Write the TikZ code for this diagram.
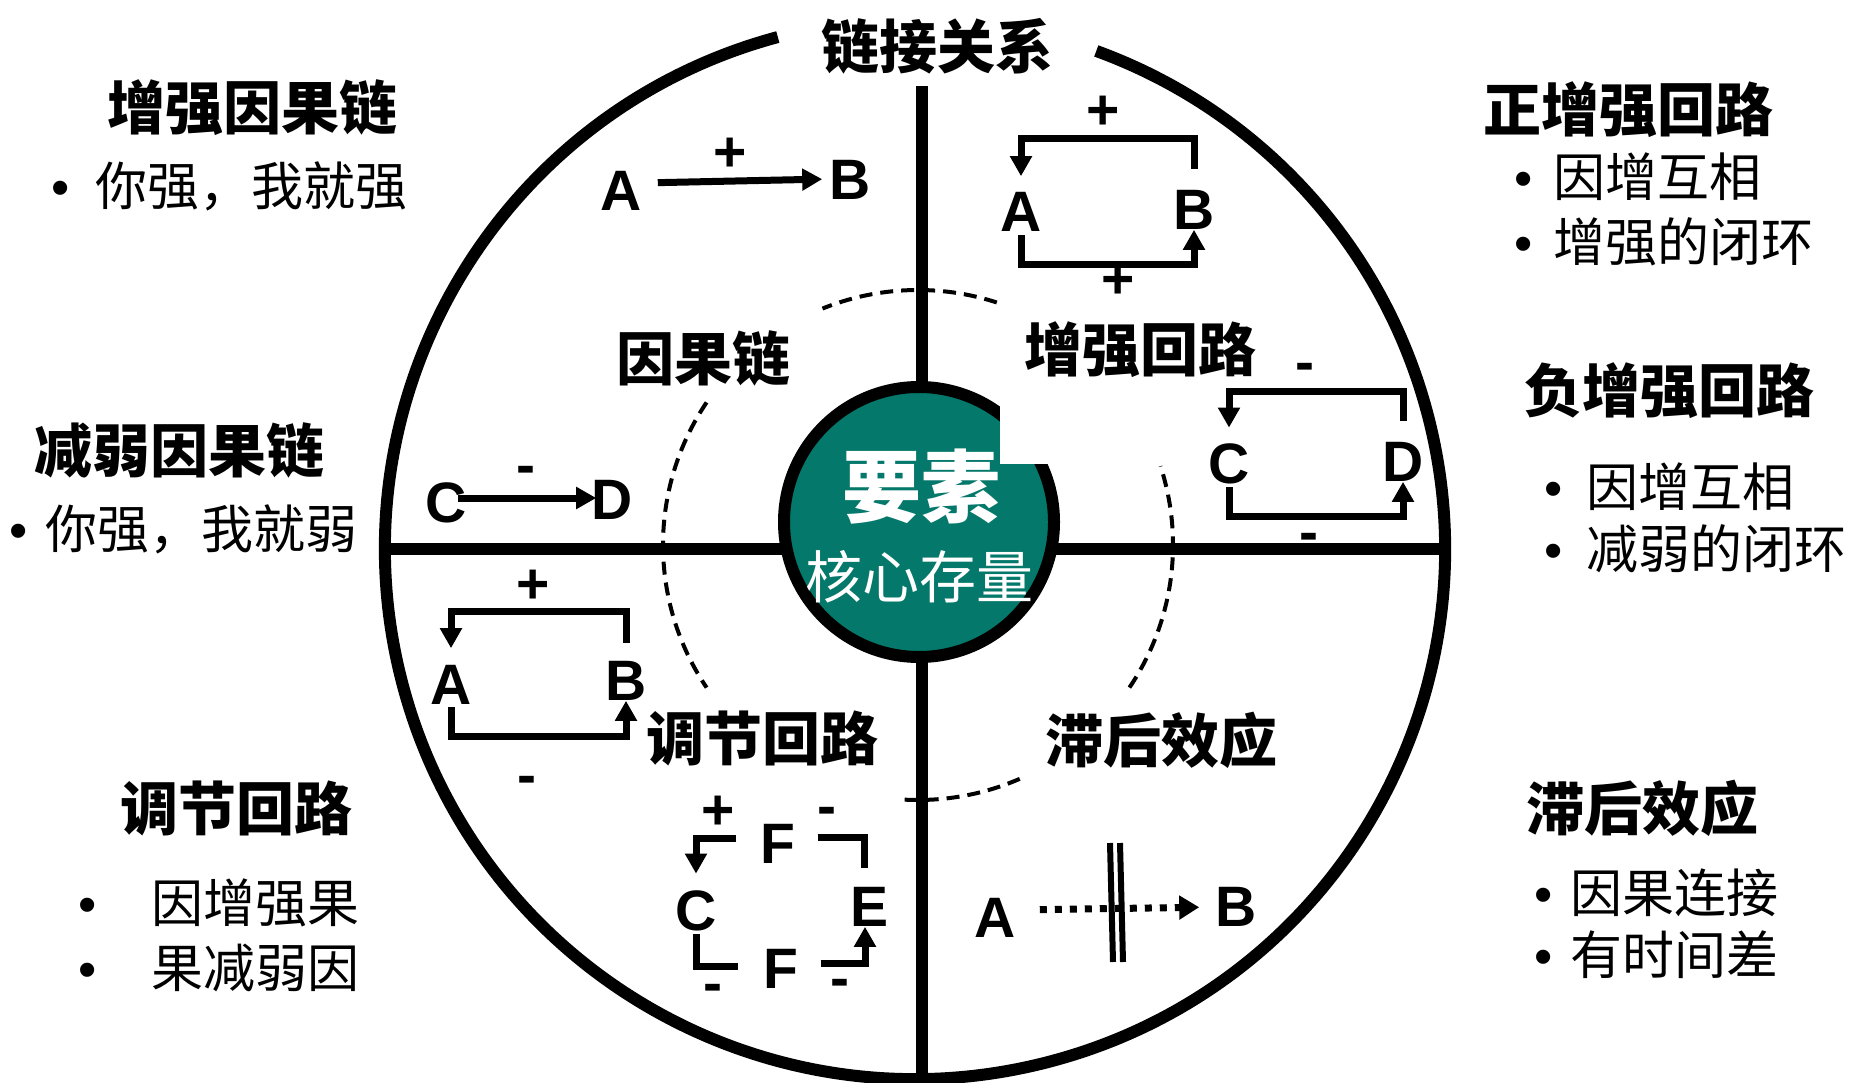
\documentclass[tikz,border=0pt]{standalone}
\usepackage{fontspec}
\usepackage{xcolor}
\usepackage{tikz}
\usetikzlibrary{arrows.meta}
\newfontfamily\cjk{Noto Sans CJK SC}
\newfontfamily\lat{Liberation Sans}
\definecolor{coreteal}{RGB}{4,120,106}
\newcommand{\fsz}[1]{\fontsize{#1}{#1}\selectfont}
\newcommand{\itm}[2]{{\lat •}\hspace{#1pt}#2}

\begin{document}
\begin{tikzpicture}[x=1pt, y=-1pt, >={Triangle[length=20pt,width=21pt]}]
\tikzstyle{every node}=[inner sep=0pt]
\tikzstyle{ring}=[line width=12pt]
\tikzstyle{ringdash}=[line width=4pt, dash pattern=on 13pt off 8pt]
\tikzstyle{fb}=[line width=7pt]
\tikzstyle{head}=[font=\cjk\bfseries\fsz{58}]
\tikzstyle{sector}=[font=\cjk\bfseries\fsz{58}]
\tikzstyle{bullet}=[font=\cjk\fsz{52}, anchor=west]
\tikzstyle{var}=[font=\lat\bfseries\fsz{57}]
\tikzstyle{sign}=[font=\lat\bfseries\fsz{57}]
  \useasboundingbox (0,0) rectangle (1865,1083);
  % big wheel, cross and dashed inner ring
  \draw[ring] (915,549) ++(105:530pt) arc[start angle=105, end angle=430, radius=530pt];
  \draw[ring] (922,86) -- (922,1083);
  \draw[ring] (380,549) -- (1448,549);
  \foreach \a/\b in {72/112, 146/214, -34/18, -93/-66}
    \draw[ringdash] (918,545) ++(\a:255pt) arc[start angle=\a, end angle=\b, radius=255pt];

  % core
  \draw[ring, fill=coreteal] (919,522) circle[radius=135pt];
  \fill[white] (1000,390) rectangle (1068,464);
  \node[font=\cjk\bfseries\fsz{79}, text=white] (core) at (921,487) {要素};
  \node[font=\cjk\fsz{57}, text=white] (stock) at (919,577) {核心存量};

  \node[sector] (title)   at (937,46)   {链接关系};
  \node[sector] (chain)   at (703,358)  {因果链};
  \node[sector] (reinf)   at (1140,350) {增强回路};
  \node[sector] (balance) at (762,738)  {调节回路};
  \node[sector] (delay)   at (1161,740) {滞后效应};

  % A -> B
  \node[var] (A1) at (621,191) {A};
  \node[var] (B1) at (850,180) {B};
  \node[sign] (p1) at (730,155) {+};
  \draw[fb,->,shorten <=16pt,shorten >=7pt] ([yshift=8pt]A1.east) -- ([yshift=1pt]B1.west);

  % C -> D
  \node[var] (C1) at (446,503) {C};
  \node[var] (D1) at (612,500) {D};
  \node[sign] (m3) at (526,475) {-};
  \draw[fb,->] ([xshift=-9pt,yshift=5pt]C1.east) -- ([xshift=5pt,yshift=2pt]D1.west);

  % A B loop, + +
  \node[var] (A2) at (1021,212) {A};
  \node[var] (B2) at (1194,210) {B};
  \node[sign] (p2) at (1103,113) {+};
  \node[sign] (p3) at (1118,282) {+};
  \draw[fb,->,shorten <=21pt,shorten >=16pt] (B2.north) -- ++(0,-52) -| (A2.north);
  \draw[fb,->,shorten <=3pt] (A2.south) -- ++(0,33) -| (B2.south);

  % C D loop, - -
  \node[var] (C2) at (1229,464) {C};
  \node[var] (D2) at (1403,462) {D};
  \node[sign] (m1) at (1305,372) {-};
  \node[sign] (m2) at (1309,542) {-};
  \draw[fb,->,shorten <=21pt,shorten >=16pt] (D2.north) -- ++(0,-51) -| (C2.north);
  \draw[fb,->,shorten <=3pt] (C2.south) -- ++(0,32) -| (D2.south);

  % A B loop, + -
  \node[var] (A3) at (451,685) {A};
  \node[var] (B3) at (626,681) {B};
  \node[sign] (p4) at (533,587) {+};
  \node[sign] (m4) at (527,785) {-};
  \draw[fb,->,shorten <=18pt,shorten >=17pt] (B3.north) -- ++(0,-50) -| (A3.north);
  \draw[fb,->,shorten <=2pt] (A3.south) -- ++(0,32) -| (B3.south);

  % C E F loop
  \node[var] (C3) at (696,911) {C};
  \node[var] (E3) at (869,907) {E};
  \node[var] (F1) at (778,844) {F};
  \node[var] (F2) at (781,969) {F};
  \node[sign] (p5) at (718,813) {+};
  \node[sign] (m5) at (827,816) {-};
  \node[sign] (m6) at (713,993) {-};
  \node[sign] (m7) at (840,988) {-};
  \draw[fb,->,shorten <=24pt,shorten >=17pt] ([yshift=6pt]F1.west) -| (C3.north);
  \draw[fb,shorten <=22pt,shorten >=19pt] ([yshift=7pt]F1.east) -| ([xshift=-5pt]E3.north);
  \draw[fb,shorten <=3pt,shorten >=25pt] (C3.south) |- ([yshift=3pt]F2.west);
  \draw[fb,->,shorten <=22pt] ([yshift=6pt]F2.east) -| ([xshift=-4pt]E3.south);

  % delayed link
  \node[var] (A4) at (995,918) {A};
  \node[var] (B4) at (1236,907) {B};
  \draw[fb, dash pattern=on 7pt off 8pt, -{Triangle[length=20pt,width=23pt]},
        shorten <=24pt, shorten >=16pt] ([yshift=8pt]A4.east) -- (B4.west);
  \draw[line width=6pt] (1110,843) -- (1113,962);
  \draw[line width=6pt] (1120,843) -- (1123,962);

  % side notes
  \node[head] (h1) at (252,108) {增强因果链};
  \node[bullet] (h1a) at (51,186) {\itm{26}{你强，我就强}};
  \node[head] (h2) at (179,450) {减弱因果链};
  \node[bullet] (h2a) at (9,529) {\itm{18}{你强，我就弱}};
  \node[head] (h3) at (236,808) {调节回路};
  \node[bullet] (h3a) at (78,903) {\itm{55}{因增强果}};
  \node[bullet] (h3b) at (78,968) {\itm{55}{果减弱因}};
  \node[head] (h4) at (1628,110) {正增强回路};
  \node[bullet] (h4a) at (1514,177) {\itm{21}{因增互相}};
  \node[bullet] (h4b) at (1514,242) {\itm{21}{增强的闭环}};
  \node[head] (h5) at (1669,391) {负增强回路};
  \node[bullet] (h5a) at (1544,487) {\itm{24}{因增互相}};
  \node[bullet] (h5b) at (1544,549) {\itm{24}{减弱的闭环}};
  \node[head] (h6) at (1642,808) {滞后效应};
  \node[bullet] (h6a) at (1534,893) {\itm{18}{因果连接}};
  \node[bullet] (h6b) at (1534,955) {\itm{18}{有时间差}};
\end{tikzpicture}
\end{document}
